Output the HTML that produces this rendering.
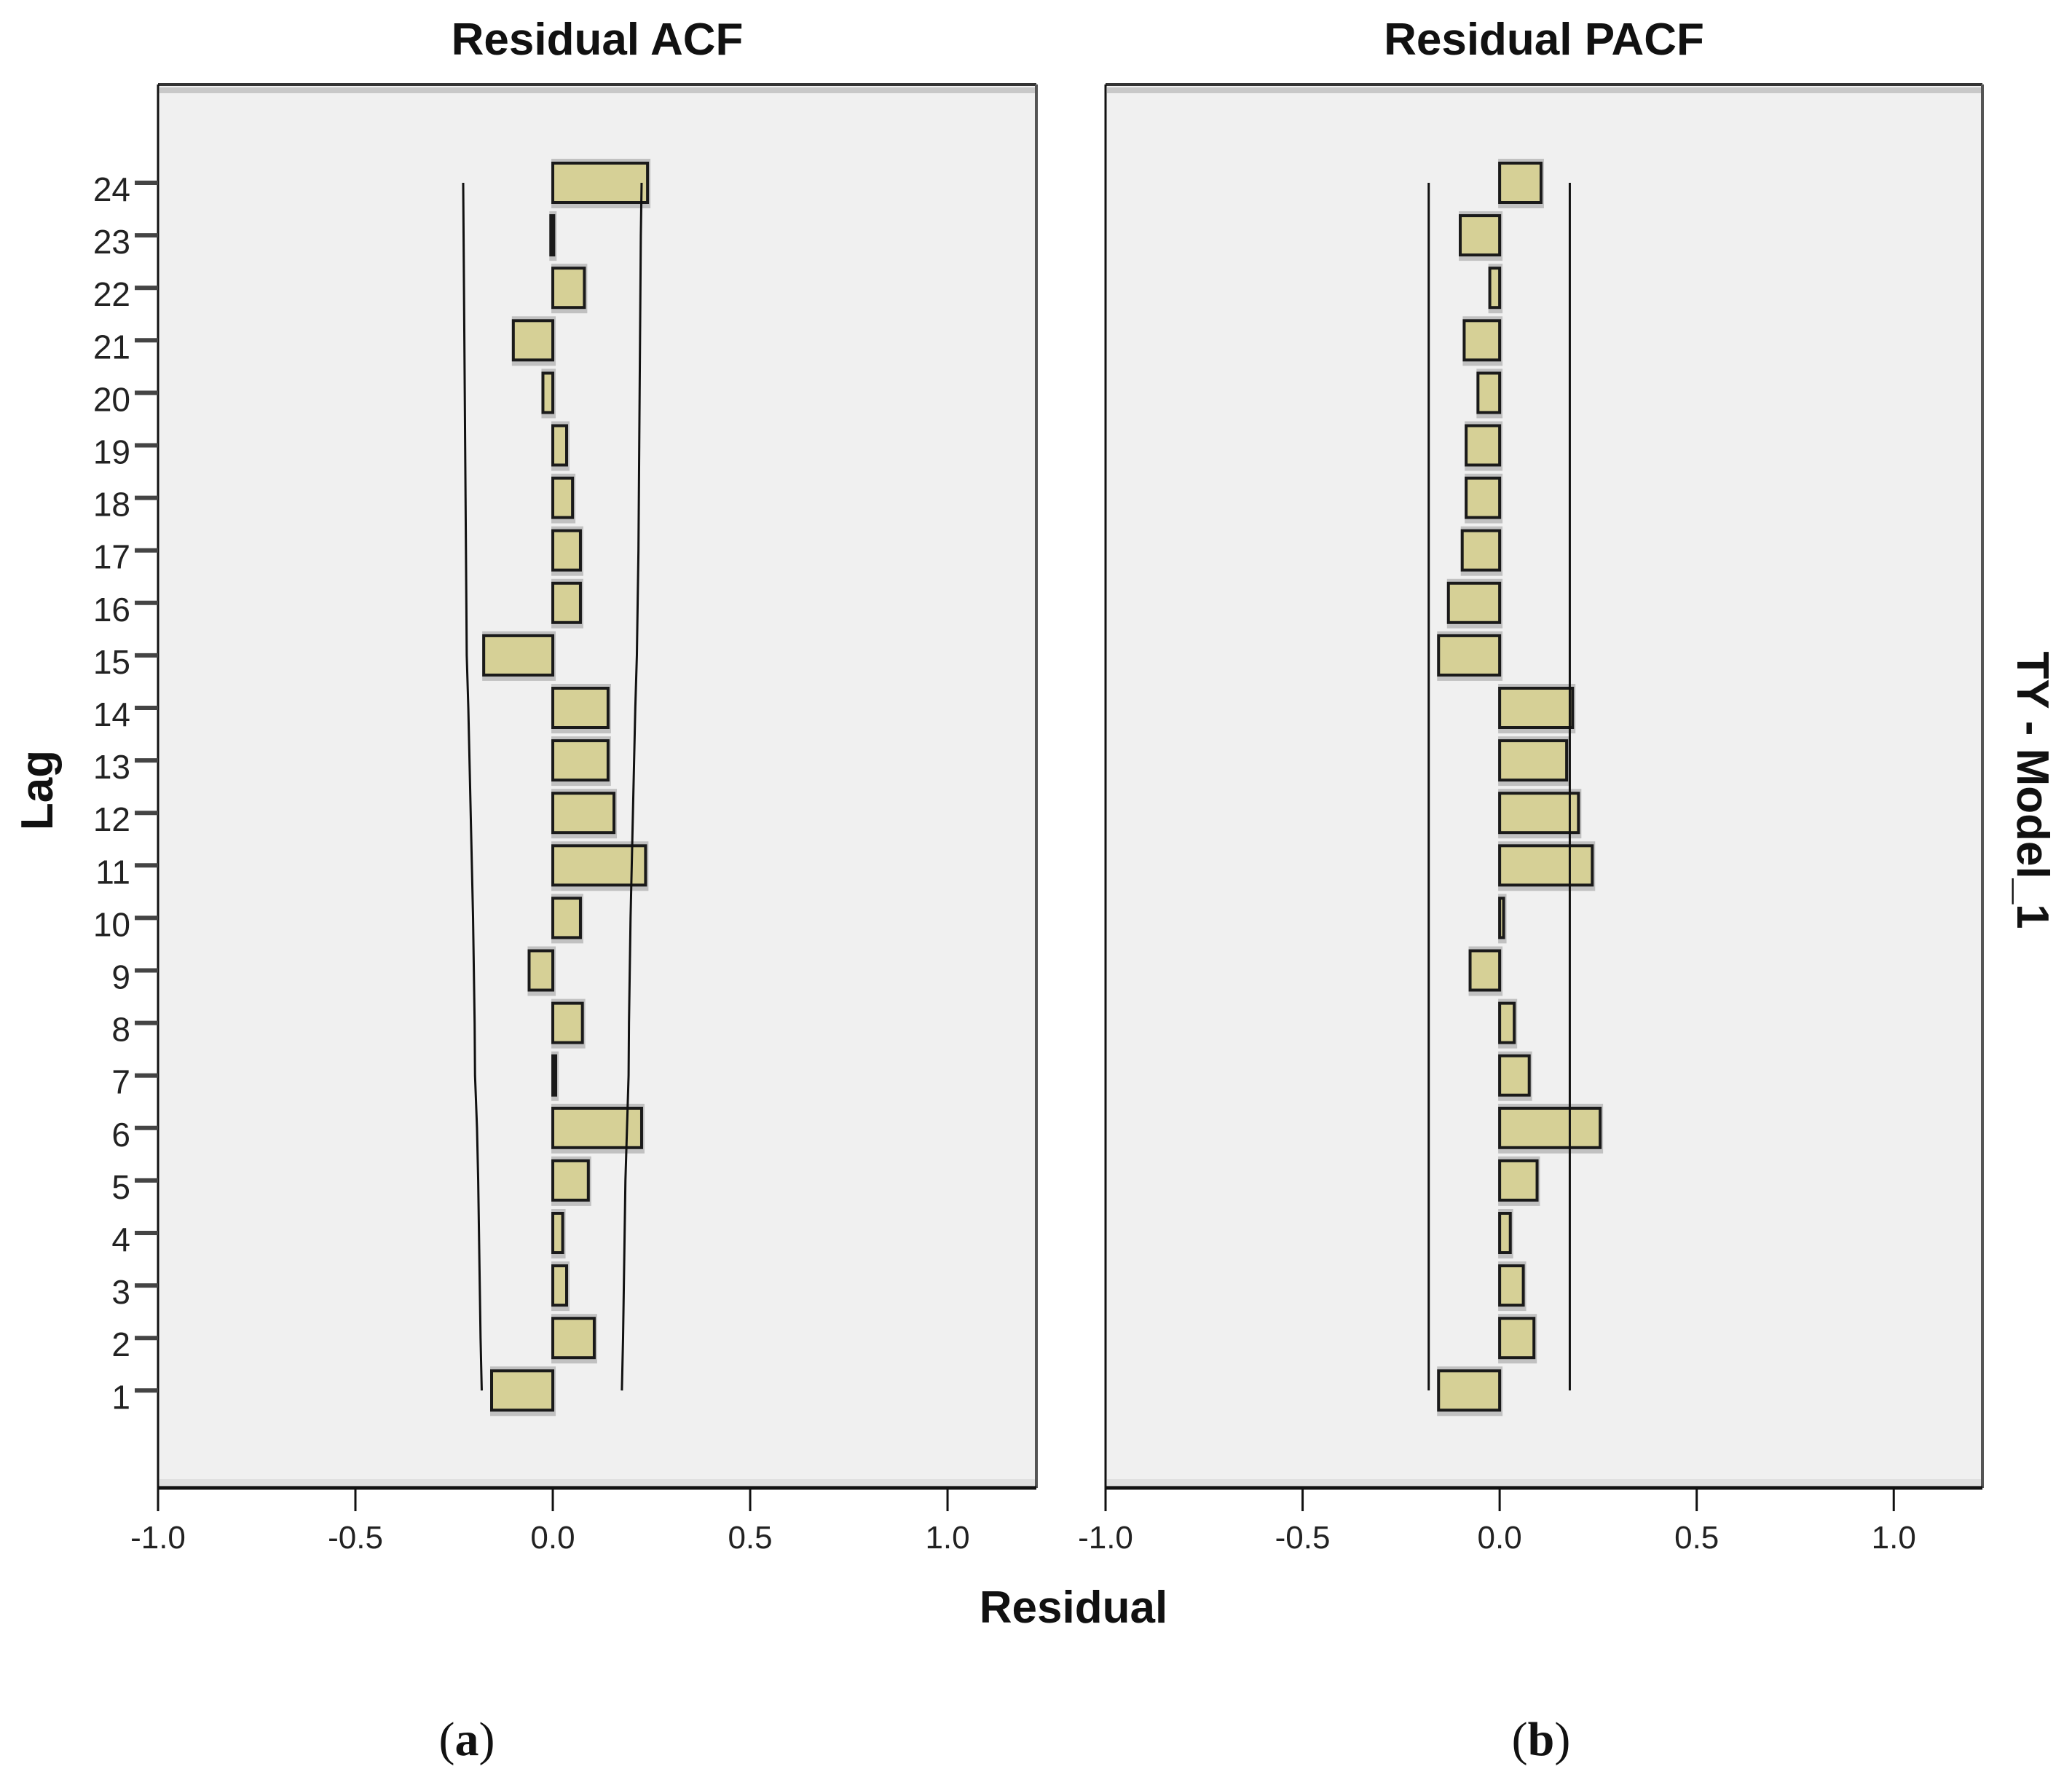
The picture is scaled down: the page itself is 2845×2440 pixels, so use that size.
<!DOCTYPE html>
<html><head><meta charset="utf-8"><style>
html,body{margin:0;padding:0;background:#fff}
svg{display:block}
</style></head><body>
<svg id="chart" width="2845" height="2440" viewBox="0 0 2845 2440" xmlns="http://www.w3.org/2000/svg" font-family="Liberation Sans, sans-serif">
<rect width="2845" height="2440" fill="#fff"/>
<g id="g"></g>
</svg>
<script>
const lags = [1,2,3,4,5,6,7,8,9,10,11,12,13,14,15,16,17,18,19,20,21,22,23,24];
const acfValues = [-0.155,0.105,0.035,0.025,0.09,0.225,0.005,0.075,-0.06,0.07,0.235,0.155,0.14,0.14,-0.175,0.07,0.07,0.05,0.035,-0.025,-0.10,0.08,-0.005,0.24];
const acfUpper = [0.175,0.178,0.180,0.182,0.184,0.188,0.192,0.193,0.195,0.197,0.200,0.203,0.206,0.209,0.213,0.215,0.217,0.218,0.219,0.220,0.221,0.222,0.223,0.225];
const acfLower = [-0.180,-0.183,-0.185,-0.187,-0.189,-0.192,-0.197,-0.198,-0.200,-0.202,-0.205,-0.208,-0.211,-0.214,-0.218,-0.219,-0.220,-0.221,-0.222,-0.223,-0.224,-0.225,-0.226,-0.227];
const pacfValues = [-0.155,0.087,0.06,0.027,0.095,0.255,0.075,0.037,-0.075,0.01,0.235,0.2,0.17,0.185,-0.155,-0.13,-0.095,-0.085,-0.085,-0.055,-0.09,-0.025,-0.10,0.105];
const pacfUpper = [0.178,0.178,0.178,0.178,0.178,0.178,0.178,0.178,0.178,0.178,0.178,0.178,0.178,0.178,0.178,0.178,0.178,0.178,0.178,0.178,0.178,0.178,0.178,0.178];
const pacfLower = [-0.18,-0.18,-0.18,-0.18,-0.18,-0.18,-0.18,-0.18,-0.18,-0.18,-0.18,-0.18,-0.18,-0.18,-0.18,-0.18,-0.18,-0.18,-0.18,-0.18,-0.18,-0.18,-0.18,-0.18];
const xTicks = [-1.0,-0.5,0.0,0.5,1.0];
const xTickLabels = ["-1.0","-0.5","0.0","0.5","1.0"];

const NS="http://www.w3.org/2000/svg";
const root=document.getElementById('g');
function mk(tag,attrs,parent){const e=document.createElementNS(NS,tag);for(const k in attrs)e.setAttribute(k,attrs[k]);(parent||root).appendChild(e);return e;}
const TOP=116, BOT=2043, XMIN=-1.0, XMAX=1.225;
function yScale(lag){return 251+(24-lag)*72.1;}

function panel(name,left,right,title,vals,up,lo,showY){
  const g=mk('g',{});
  
  
  const xs=v=>left+(v-XMIN)/(XMAX-XMIN)*(right-left);
  const bg=mk('rect',{x:left,y:TOP,width:right-left,height:BOT-TOP,fill:'#f0f0f0',stroke:'none'},g);
  
  
  mk('rect',{x:left+2,y:TOP+4,width:right-left-4,height:8,fill:'#c8c8c8'},g);
  mk('rect',{x:left+2,y:BOT-12,width:right-left-4,height:8,fill:'#e0e0e0'},g);
  mk('line',{x1:left,y1:TOP,x2:right,y2:TOP,stroke:'#333',"stroke-width":4},g);
  mk('line',{x1:left,y1:TOP,x2:left,y2:BOT,stroke:'#111',"stroke-width":3},g);
  mk('line',{x1:right,y1:TOP,x2:right,y2:BOT,stroke:'#555',"stroke-width":4},g);
  mk('line',{x1:left,y1:BOT,x2:right,y2:BOT,stroke:'#111',"stroke-width":5},g);
  const t=mk('text',{x:(left+right)/2,y:75,"text-anchor":'middle',"font-size":62,"font-weight":'bold',fill:'#111'},g);
  t.textContent=title;
  
  
  xTicks.forEach((v,i)=>{
    mk('line',{x1:xs(v),y1:BOT,x2:xs(v),y2:BOT+32,stroke:'#111',"stroke-width":3},g);
    const tl=mk('text',{x:xs(v),y:2126,"text-anchor":'middle',"font-size":44,fill:'#222'},g);
    tl.textContent=xTickLabels[i];
    
    
  });
  if(showY){
    lags.forEach(l=>{
      mk('line',{x1:left-32,y1:yScale(l),x2:left,y2:yScale(l),stroke:'#444',"stroke-width":6},g);
      const yl=mk('text',{x:left-38,y:yScale(l)+25,"text-anchor":'end',"font-size":46,fill:'#222'},g);
      yl.textContent=String(l);
      
      
    });
  }
  const h=54;
  vals.forEach((v,i)=>{
    const y=yScale(lags[i]);
    const x0=xs(Math.min(0,v)), x1=xs(Math.max(0,v));
    const w=Math.max(x1-x0,4);
    mk('rect',{x:x0-2,y:y-h/2-6,width:w+6,height:h+14,fill:'#9a9a9a',opacity:0.55},g);
    const b=mk('rect',{x:x0,y:y-h/2,width:w,height:h,fill:'#d6d096',stroke:'#1a1a1a',"stroke-width":4},g);
    
    
  });
  const pu=up.map((v,i)=>xs(v)+','+yScale(lags[i])).join(' ');
  const pl=lo.map((v,i)=>xs(v)+','+yScale(lags[i])).join(' ');
  const u=mk('polyline',{points:pu,fill:'none',stroke:'#111',"stroke-width":3},g);
  
  
  const lw=mk('polyline',{points:pl,fill:'none',stroke:'#111',"stroke-width":3},g);
  
  
}
panel('acf',217,1423,'Residual ACF',acfValues,acfUpper,acfLower,true);
panel('pacf',1518,2722,'Residual PACF',pacfValues,pacfUpper,pacfLower,false);

let e;
e=mk('text',{x:1474,y:2228,"text-anchor":'middle',"font-size":62,"font-weight":'bold',fill:'#111'});
e.textContent='Residual';


e=mk('text',{x:0,y:0,transform:'translate(72,1085) rotate(-90)',"text-anchor":'middle',"font-size":62,"font-weight":'bold',fill:'#111'});
e.textContent='Lag';


e=mk('text',{x:0,y:0,transform:'translate(2770,1085) rotate(90)',"text-anchor":'middle',"font-size":62,"font-weight":'bold',fill:'#111'});
e.textContent='TY - Model_1';


e=mk('text',{x:641,y:2410,"text-anchor":'middle',"font-size":66,fill:'#111',"font-family":'Liberation Serif, serif'});
e.innerHTML='(<tspan font-weight="bold">a</tspan>)';


e=mk('text',{x:2116,y:2410,"text-anchor":'middle',"font-size":66,fill:'#111',"font-family":'Liberation Serif, serif'});
e.innerHTML='(<tspan font-weight="bold">b</tspan>)';


</script>
</body></html>
